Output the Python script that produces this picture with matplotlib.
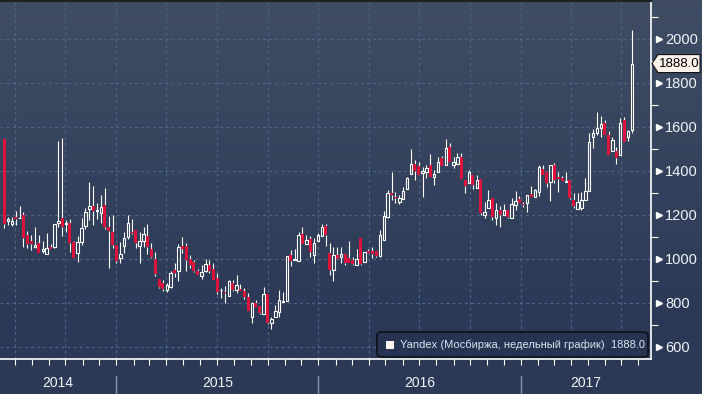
import numpy as np
import pandas as pd
import matplotlib
matplotlib.use('Agg')
import matplotlib.pyplot as plt
import matplotlib.dates as mdates
from matplotlib.patches import Rectangle, Polygon, FancyBboxPatch

# weekly OHLC, Yandex on Moscow exchange
opens = [1545, 1173, 1159, 1191, 1186, 1200, 1109, 1082, 1054, 1073, 1036, 1023, 1054, 1054, 1164, 1186,
         1159, 1164, 1077, 1027, 1077, 1150, 1227, 1241, 1218, 1209, 1245, 1145, 1122, 1063, 1004, 1059,
         1100, 1122, 1131, 1059, 1082, 1104, 1045, 1000, 909, 891, 859, 873, 950, 945, 1059, 1059,
         1000, 986, 945, 923, 945, 973, 955, 914, 857, 850, 832, 891, 859, 864, 855, 827,
         736, 800, 786, 750, 841, 709, 736, 759, 804, 809, 1018, 995, 991, 1113, 1068, 1091,
         1018, 1082, 1104, 1150, 1027, 950, 1018, 1009, 1023, 1004, 995, 973, 1095, 986, 1036, 1036,
         1036, 1013, 1086, 1191, 1300, 1282, 1259, 1273, 1318, 1386, 1432, 1423, 1391, 1395, 1427, 1373,
         1395, 1459, 1427, 1509, 1427, 1432, 1463, 1359, 1345, 1382, 1323, 1363, 1200, 1232, 1277, 1186,
         1222, 1200, 1222, 1186, 1245, 1272, 1250, 1254, 1295, 1282, 1304, 1409, 1395, 1350, 1427, 1373,
         1368, 1350, 1359, 1268, 1227, 1232, 1268, 1309, 1554, 1572, 1595, 1618, 1563, 1490, 1491, 1472,
         1632, 1554, 1586]
highs = [1545, 1191, 1191, 1218, 1241, 1213, 1127, 1109, 1145, 1109, 1082, 1118, 1068, 1159, 1536, 1550,
         1177, 1182, 1082, 1104, 1186, 1232, 1350, 1332, 1254, 1290, 1323, 1195, 1200, 1063, 1077, 1122,
         1200, 1182, 1131, 1122, 1145, 1159, 1073, 1032, 909, 905, 891, 945, 982, 1068, 1100, 1073,
         1018, 995, 955, 973, 1000, 995, 982, 936, 868, 877, 905, 905, 927, 886, 868, 845,
         805, 813, 786, 873, 841, 736, 791, 859, 850, 1013, 1041, 1045, 1122, 1145, 1109, 1104,
         1095, 1118, 1159, 1159, 1073, 1054, 1054, 1054, 1023, 1082, 1009, 1045, 1095, 1032, 1045, 1054,
         1036, 1131, 1218, 1313, 1395, 1304, 1291, 1327, 1373, 1500, 1450, 1441, 1418, 1427, 1477, 1404,
         1463, 1468, 1545, 1527, 1463, 1482, 1482, 1359, 1404, 1382, 1382, 1363, 1259, 1313, 1277, 1254,
         1241, 1250, 1222, 1277, 1309, 1286, 1259, 1291, 1332, 1318, 1427, 1427, 1395, 1427, 1436, 1395,
         1377, 1395, 1359, 1300, 1300, 1304, 1368, 1572, 1591, 1668, 1650, 1632, 1582, 1554, 1509, 1641,
         1645, 1586, 2041]
lows = [1141, 1154, 1150, 1154, 1186, 1054, 1050, 1041, 1050, 1027, 1027, 1023, 1045, 1050, 1145, 1104,
        1122, 1032, 1004, 986, 1064, 1136, 1177, 1154, 1182, 1164, 1136, 959, 1050, 982, 982, 1027,
        1091, 1113, 1050, 982, 1054, 1023, 1004, 923, 868, 855, 850, 868, 918, 900, 1027, 945,
        959, 941, 927, 909, 941, 936, 904, 841, 823, 800, 832, 855, 845, 855, 818, 764,
        709, 782, 750, 750, 705, 682, 736, 736, 804, 809, 968, 995, 991, 1068, 1068, 1009,
        982, 1082, 1104, 1059, 927, 900, 1000, 982, 973, 982, 973, 973, 973, 986, 1027, 1004,
        1009, 1009, 1086, 1186, 1268, 1254, 1250, 1273, 1318, 1386, 1359, 1382, 1282, 1368, 1373, 1336,
        1395, 1423, 1427, 1441, 1413, 1432, 1363, 1300, 1345, 1318, 1323, 1200, 1186, 1232, 1177, 1154,
        1145, 1200, 1186, 1186, 1222, 1254, 1236, 1213, 1282, 1282, 1286, 1382, 1327, 1263, 1345, 1304,
        1354, 1350, 1272, 1232, 1227, 1222, 1268, 1309, 1504, 1563, 1554, 1563, 1472, 1490, 1432, 1472,
        1532, 1536, 1572]
closes = [1159, 1182, 1174, 1182, 1188, 1095, 1068, 1068, 1063, 1027, 1045, 1050, 1045, 1159, 1173, 1145,
          1164, 1073, 1004, 1077, 1141, 1213, 1241, 1218, 1222, 1236, 1145, 1127, 1063, 991, 1023, 1095,
          1163, 1118, 1073, 1082, 1113, 1054, 1009, 932, 873, 864, 882, 936, 936, 1054, 1045, 995,
          973, 945, 927, 941, 977, 945, 904, 850, 860, 845, 900, 859, 882, 855, 827, 764,
          800, 782, 754, 841, 709, 727, 764, 813, 809, 1013, 991, 1000, 1109, 1068, 1086, 1032,
          1073, 1109, 1145, 1109, 950, 1018, 1000, 1023, 982, 982, 977, 1000, 977, 1032, 1027, 1023,
          1013, 1109, 1195, 1300, 1291, 1277, 1277, 1309, 1368, 1432, 1400, 1382, 1400, 1413, 1373, 1386,
          1441, 1423, 1504, 1441, 1441, 1463, 1363, 1332, 1395, 1336, 1359, 1209, 1213, 1268, 1191, 1222,
          1200, 1222, 1191, 1250, 1263, 1254, 1245, 1291, 1282, 1313, 1418, 1382, 1345, 1427, 1359, 1363,
          1354, 1354, 1277, 1241, 1259, 1268, 1309, 1532, 1572, 1595, 1614, 1563, 1472, 1541, 1459, 1618,
          1532, 1582, 1888]
weeks = pd.date_range('2014-06-12', periods=len(closes), freq='7D')

years = [2014, 2015, 2016, 2017]
price_ticks = [600, 800, 1000, 1200, 1400, 1600, 1800, 2000]
minor_ticks = [700, 900, 1100, 1300, 1500, 1700, 1900, 2100]
series_name = 'Yandex (Мосбиржа, недельный график)'

RED = '#dc143c'
WHITE = '#ffffff'
GRID = '#4e6884'
TXT = '#f0f4f8'
TOP_COL = np.array([0.25, 0.30, 0.395])
BOT_COL = np.array([0.172, 0.227, 0.341])

plt.rcParams['font.family'] = ['Liberation Sans', 'DejaVu Sans']

W, H = 702, 394
fig = plt.figure(figsize=(W / 100, H / 100), dpi=100)

# background gradient over the whole figure
bg = fig.add_axes([0, 0, 1, 1])
t = np.clip(np.arange(H) / 310.0, 0, 1)[:, None]
grad = TOP_COL * (1 - t) + BOT_COL * t
bg.imshow(grad[:, None, :], aspect='auto', extent=[0, 1, 0, 1])
bg.set_axis_off()

ax_l, ax_b = 0, 35 / H
ax_w, ax_h = 651 / W, 359 / H
ax = fig.add_axes([ax_l, ax_b, ax_w, ax_h])
ax.patch.set_alpha(0)

x = mdates.date2num(weeks)
d2015 = mdates.date2num(pd.Timestamp('2015-01-01'))
d2017 = mdates.date2num(pd.Timestamp('2017-01-01'))
xlo, xhi = d2015 - 210.3, d2017 + 234.7
ylo, yhi = 545, 2177
ax.set_xlim(xlo, xhi)
ax.set_ylim(ylo, yhi)

# grid
for q in pd.date_range('2014-04-01', '2017-10-01', freq='QS'):
    ax.axvline(mdates.date2num(q), color=GRID, lw=0.8, ls=(0, (2.5, 3)), zorder=1)
for p in price_ticks:
    ax.axhline(p, color=GRID, lw=0.8, ls=(0, (2.5, 3)), zorder=1)

# candles
body_red = 5.4
body_hol = 4.4
for xi, o, h, l, c in zip(x, opens, highs, lows, closes):
    top, bot = max(o, c), min(o, c)
    ax.vlines(xi, top, h, color=WHITE, lw=0.8, zorder=3)
    ax.vlines(xi, l, bot, color=WHITE, lw=0.8, zorder=3)
    if c < o:
        ax.add_patch(Rectangle((xi - body_red / 2, bot), body_red, max(top - bot, 3),
                               facecolor=RED, edgecolor='none', zorder=4))
    else:
        ax.add_patch(Rectangle((xi - body_hol / 2, bot), body_hol, max(top - bot, 2),
                               facecolor='none', edgecolor=WHITE, lw=0.8, zorder=4))

# spines and ticks
for s in ['top', 'left']:
    ax.spines[s].set_visible(False)
for s in ['right', 'bottom']:
    ax.spines[s].set_color(WHITE)
    ax.spines[s].set_linewidth(1.2)
ax.xaxis.set_major_locator(mdates.MonthLocator())
ax.tick_params(axis='x', which='both', direction='out', length=4, width=0.8,
               colors=WHITE, labelbottom=False)
ax.yaxis.tick_right()
ax.set_yticks(price_ticks)
ax.set_yticks(minor_ticks, minor=True)
ax.tick_params(axis='y', which='major', length=0, pad=10, labelsize=10.5, labelcolor=TXT)
ax.tick_params(axis='y', which='minor', length=5, width=0.8, color=WHITE)
ax.set_yticklabels([str(p) for p in price_ticks])
# flag markers on major ticks
ax.plot([1.012] * len(price_ticks), price_ticks, marker='>', ms=5, color=WHITE, ls='none',
        transform=ax.get_yaxis_transform(), clip_on=False, zorder=5)

# year band below the axis
for yr in years:
    a = max(mdates.date2num(pd.Timestamp(f'{yr}-01-01')), xlo)
    b = min(mdates.date2num(pd.Timestamp(f'{yr + 1}-01-01')), xhi)
    xf = ax_l + ax_w * ((a + b) / 2 - xlo) / (xhi - xlo)
    fig.text(xf, 11 / H, str(yr), ha='center', va='center', fontsize=10, color=TXT)
    if yr > years[0]:
        xs = ax_l + ax_w * (a - xlo) / (xhi - xlo)
        fig.add_artist(plt.Line2D([xs, xs], [0, 18 / H], color='#8a96a8', lw=1))

# last price tag
last = closes[-1]
yf = ax_b + ax_h * (last - ylo) / (yhi - ylo)
hh = 9 / H
tag = Polygon([[652 / W, yf], [658 / W, yf + hh], [700 / W, yf + hh], [700 / W, yf - hh], [658 / W, yf - hh]],
              closed=True, transform=fig.transFigure, facecolor='#fdf3ec', edgecolor='#111111', lw=0.8, zorder=10)
fig.add_artist(tag)
fig.text(679 / W, yf, f'{last:.1f}', ha='center', va='center', fontsize=9.5, color='black', zorder=11)

# legend box
lb = FancyBboxPatch((377 / W, (H - 357) / H), 271 / W, 25 / H,
                    boxstyle='round,pad=0,rounding_size=0.008', transform=fig.transFigure,
                    facecolor='#263451', edgecolor='#0c111b', lw=1.2, zorder=10)
fig.add_artist(lb)
ly = (H - 345) / H
fig.add_artist(Rectangle((386 / W, ly - 4 / H), 8 / W, 8 / H, transform=fig.transFigure,
                         facecolor='#fff6f2', edgecolor='none', zorder=11))
fig.text(400 / W, ly, f'{series_name}  {last:.1f}', ha='left', va='center',
         fontsize=8, color='#d8e4f0', zorder=11)

# thin dark strip at the very top
fig.add_artist(plt.Line2D([0, 651 / W], [1 - 0.8 / H, 1 - 0.8 / H], color='#222222', lw=1.5))

fig.savefig('out.png', dpi=100)
